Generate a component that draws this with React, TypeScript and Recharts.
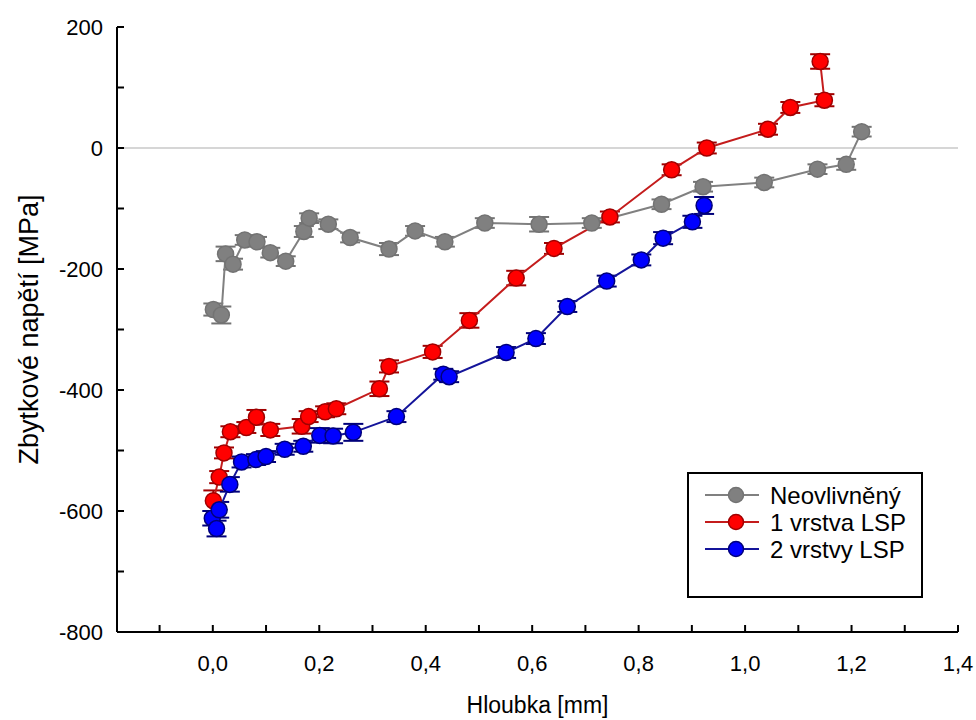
import { LineChart, Line, XAxis, YAxis, ErrorBar, ReferenceLine, Legend } from 'recharts'

// Neovlivněný
const grayX = [0.001, 0.016, 0.024, 0.038, 0.06, 0.083, 0.108, 0.137, 0.171, 0.181, 0.217, 0.258, 0.331, 0.38, 0.436, 0.511, 0.613, 0.712, 0.843, 0.921, 1.036, 1.136, 1.19, 1.219]
const grayY = [-267, -276, -175, -192, -152, -155, -173, -187, -138, -116, -126, -148, -167, -137, -155, -124, -126, -124, -93, -64, -57, -35, -27, 27]
const grayErr = [10, 14, 12, 9, 8, 8, 8, 8, 9, 8, 8, 8, 10, 8, 8, 8, 12, 8, 8, 8, 8, 8, 9, 8]

// 1 vrstva LSP
const redX = [0.001, 0.012, 0.021, 0.033, 0.063, 0.082, 0.108, 0.167, 0.18, 0.211, 0.232, 0.313, 0.331, 0.413, 0.482, 0.57, 0.641, 0.746, 0.862, 0.928, 1.043, 1.085, 1.149, 1.141]
const redY = [-583, -544, -504, -469, -462, -445, -466, -460, -444, -436, -431, -398, -361, -337, -285, -215, -166, -114, -36, 0, 31, 67, 79, 143]
const redErr = [17, 10, 9, 9, 9, 12, 10, 12, 9, 9, 9, 12, 10, 10, 12, 12, 9, 9, 9, 9, 9, 9, 10, 12]

// 2 vrstvy LSP
const blueX = [-0.001, 0.007, 0.012, 0.032, 0.054, 0.081, 0.1, 0.135, 0.17, 0.201, 0.226, 0.264, 0.345, 0.433, 0.444, 0.551, 0.607, 0.666, 0.74, 0.805, 0.846, 0.901, 0.923]
const blueY = [-612, -629, -598, -556, -519, -515, -510, -498, -493, -475, -476, -470, -444, -374, -378, -338, -315, -262, -220, -185, -149, -122, -95]
const blueErr = [12, 13, 13, 12, 9, 9, 9, 9, 9, 12, 12, 14, 9, 9, 9, 9, 9, 9, 9, 9, 10, 10, 14]

const seriesNames = ['Neovlivněný', '1 vrstva LSP', '2 vrstvy LSP']

const xTicks = [-0.1, 0, 0.1, 0.2, 0.3, 0.4, 0.5, 0.6, 0.7, 0.8, 0.9, 1.0, 1.1, 1.2, 1.3, 1.4]
const yTicks = [-800, -700, -600, -500, -400, -300, -200, -100, 0, 100, 200]

const toRows = (xs: number[], ys: number[], es: number[]) => xs.map((x, i) => ({ x, y: ys[i], err: es[i] }))

const grayData = toRows(grayX, grayY, grayErr)
const redData = toRows(redX, redY, redErr)
const blueData = toRows(blueX, blueY, blueErr)

const font = '"Liberation Sans", Arial, sans-serif'

const seriesStyle: Record<string, { line: string; fill: string; stroke: string }> = {
  'Neovlivněný': { line: '#808080', fill: '#808080', stroke: '#737373' },
  '1 vrstva LSP': { line: '#c41c1c', fill: '#ff0000', stroke: '#a00000' },
  '2 vrstvy LSP': { line: '#14149a', fill: '#0000ff', stroke: '#00007a' },
}

const isMajorX = (v: number) => Math.round(v * 10) % 2 === 0
const isMajorY = (v: number) => Math.round(v / 100) % 2 === 0

function BottomTick({ x, y, payload }: any) {
  const v = payload.value
  return (
    <g>
      <line x1={x} y1={y} x2={x} y2={y - 7} stroke="#000" strokeWidth={2} />
      {isMajorX(v) && (
        <text x={x} y={y + 39} textAnchor="middle" fontSize={22} fontFamily={font} fill="#000">
          {v.toFixed(1).replace('.', ',')}
        </text>
      )}
    </g>
  )
}

function TopTick({ x, y }: any) {
  return <line x1={x} y1={y} x2={x} y2={y + 7} stroke="#000" strokeWidth={2} />
}

function LeftTick({ x, y, payload }: any) {
  const v = payload.value
  return (
    <g>
      <line x1={x} y1={y} x2={x + 7} y2={y} stroke="#000" strokeWidth={2} />
      {isMajorY(v) && (
        <text x={x - 14} y={y} dy="0.36em" textAnchor="end" fontSize={22} fontFamily={font} fill="#000">
          {v}
        </text>
      )}
    </g>
  )
}

function RightTick({ x, y }: any) {
  return <line x1={x} y1={y} x2={x - 7} y2={y} stroke="#000" strokeWidth={2} />
}

function LegendBox({ payload }: any) {
  const items = [...(payload || [])].sort((a: any, b: any) => seriesNames.indexOf(a.value) - seriesNames.indexOf(b.value))
  return (
    <svg width={236} height={126}>
      <rect x={1} y={1} width={234} height={124} fill="#fff" stroke="#000" strokeWidth={2} />
      {items.map((entry: any, i: number) => {
        const s = seriesStyle[entry.value]
        const cy = 23 + i * 27
        return (
          <g key={entry.value}>
            <line x1={18} y1={cy} x2={72} y2={cy} stroke={s.line} strokeWidth={2} />
            <circle cx={49} cy={cy} r={7.5} fill={s.fill} stroke={s.stroke} strokeWidth={1.5} />
            <text x={83} y={cy} dy="0.36em" fontSize={24} fontFamily={font} fill="#000">
              {entry.value}
            </text>
          </g>
        )
      })}
    </svg>
  )
}

export default function App() {
  const series = [
    { name: seriesNames[0], data: grayData },
    { name: seriesNames[1], data: redData },
    { name: seriesNames[2], data: blueData },
  ]
  return (
    <div style={{ position: 'absolute', left: 0, top: 0, background: '#fff' }}>
      <LineChart width={976} height={720} margin={{ top: 27, right: 18, bottom: 0, left: 0 }}>
        <XAxis
          dataKey="x"
          type="number"
          domain={[-0.18, 1.4]}
          ticks={xTicks}
          interval={0}
          allowDataOverflow
          height={88}
          tickSize={0}
          tickMargin={0}
          tickLine={false}
          axisLine={{ stroke: '#000', strokeWidth: 2 }}
          tick={<BottomTick />}
          label={{
            content: (p: any) => {
              const vb = p.viewBox
              return (
                <text x={vb.x + vb.width / 2} y={vb.y + 81} textAnchor="middle" fontSize={23} fontFamily={font} fill="#000">
                  Hloubka [mm]
                </text>
              )
            },
          }}
        />
        <XAxis
          xAxisId="top"
          orientation="top"
          dataKey="x"
          type="number"
          domain={[-0.18, 1.4]}
          ticks={xTicks}
          interval={0}
          allowDataOverflow
          height={0}
          tickSize={0}
          tickMargin={0}
          tickLine={false}
          axisLine={{ stroke: '#000', strokeWidth: 2 }}
          tick={<TopTick />}
        />
        <YAxis
          type="number"
          domain={[-800, 200]}
          ticks={yTicks}
          interval={0}
          allowDataOverflow
          width={117}
          tickSize={0}
          tickMargin={0}
          tickLine={false}
          axisLine={{ stroke: '#000', strokeWidth: 2 }}
          tick={<LeftTick />}
          label={{
            content: (p: any) => {
              const vb = p.viewBox
              const cx = 28
              const cy = vb.y + vb.height / 2
              return (
                <text x={cx} y={cy} dy="0.36em" transform={`rotate(-90, ${cx}, ${cy})`} textAnchor="middle" fontSize={27} fontFamily={font} fill="#000">
                  Zbytkové napětí [MPa]
                </text>
              )
            },
          }}
        />
        <YAxis
          yAxisId="right"
          orientation="right"
          type="number"
          domain={[-800, 200]}
          ticks={yTicks}
          interval={0}
          allowDataOverflow
          width={0}
          tickSize={0}
          tickMargin={0}
          tickLine={false}
          axisLine={{ stroke: '#000', strokeWidth: 2 }}
          tick={<RightTick />}
        />
        <ReferenceLine y={0} stroke="#c8c8c8" strokeWidth={1.5} />
        {series.map((s) => {
          const st = seriesStyle[s.name]
          return (
            <Line
              key={s.name}
              name={s.name}
              data={s.data}
              dataKey="y"
              stroke={st.line}
              strokeWidth={2}
              isAnimationActive={false}
              activeDot={false}
              dot={{ r: 8, fill: st.fill, stroke: st.stroke, strokeWidth: 1.5 }}
            >
              <ErrorBar dataKey="err" direction="y" width={10} stroke={st.stroke} strokeWidth={2} isAnimationActive={false} />
            </Line>
          )
        })}
        <Legend
          layout="vertical"
          align="center"
          verticalAlign="middle"
          wrapperStyle={{ left: 687, top: 472, width: 236, height: 126 }}
          content={<LegendBox />}
        />
      </LineChart>
    </div>
  )
}
